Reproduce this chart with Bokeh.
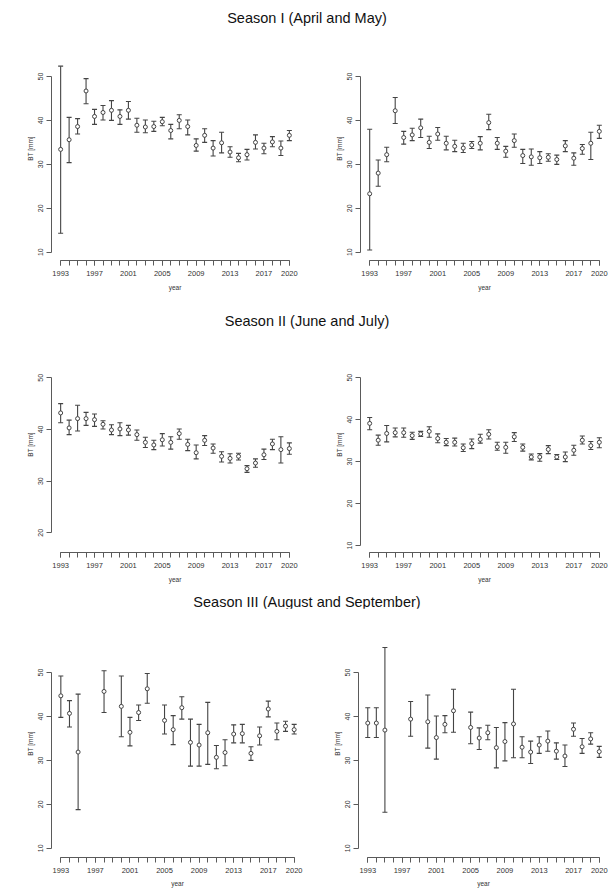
from bokeh.plotting import figure
from bokeh.layouts import column, row
from bokeh.models import Div, ColumnDataSource, Whisker, TeeHead, FixedTicker, Range1d
from bokeh.embed import file_html
from bokeh.resources import INLINE

# ---------------- data ----------------
years = list(range(1993, 2021))
years_s3 = [y for y in years if y not in (1996, 1997, 1999, 2004)]
label_years = [1993, 1997, 2001, 2005, 2009, 2013, 2017, 2020]

titles = ["Season I (April and May)", "Season II (June and July)",
          "Season III (August and September)"]

s1_left_mean = [33.4, 35.6, 38.6, 46.7, 40.9, 41.8, 42.3, 40.9, 42.3, 38.9, 38.5, 38.6, 39.7, 37.7,
                40.0, 38.6, 34.3, 36.6, 33.7, 34.9, 32.8, 31.5, 32.2, 35.0, 33.7, 35.1, 33.7, 36.6]
s1_left_hi = [52.35, 40.7, 40.4, 49.5, 42.5, 43.4, 44.5, 42.4, 44.3, 40.5, 40.1, 39.8, 40.7, 39.1,
              41.3, 40.1, 35.8, 38.1, 35.4, 37.3, 34.0, 32.5, 33.4, 36.7, 34.8, 36.3, 35.3, 37.7]
s1_left_lo = [14.3, 30.4, 36.9, 43.8, 39.1, 40.1, 40.0, 39.1, 40.3, 37.3, 37.2, 37.5, 38.8, 35.8,
              38.1, 36.7, 33.0, 35.0, 31.9, 32.6, 31.6, 30.6, 31.0, 33.5, 32.4, 34.0, 32.0, 35.4]

s1_right_mean = [23.3, 28.0, 32.2, 42.2, 36.1, 36.7, 38.3, 35.0, 36.9, 34.8, 34.1, 33.7, 34.4, 34.8,
                 39.5, 34.8, 33.0, 35.4, 32.0, 31.7, 31.5, 31.6, 31.1, 34.2, 31.4, 33.6, 34.8, 37.5]
s1_right_hi = [38.0, 31.0, 33.9, 45.2, 37.5, 38.2, 40.3, 36.4, 38.4, 36.4, 35.5, 34.8, 35.2, 36.3,
               41.4, 36.1, 34.1, 36.9, 33.4, 33.5, 32.9, 32.4, 32.1, 35.4, 32.6, 34.5, 37.3, 38.9]
s1_right_lo = [10.5, 25.0, 30.6, 39.3, 34.6, 35.4, 36.1, 33.6, 35.5, 33.3, 32.9, 32.7, 33.6, 33.3,
               37.9, 33.4, 31.6, 33.9, 30.2, 29.8, 30.2, 30.7, 30.0, 32.9, 29.8, 32.3, 31.1, 35.9]

s2_left_mean = [43.2, 40.3, 42.1, 42.1, 41.9, 41.0, 39.9, 40.1, 39.9, 39.0, 37.5, 37.0, 38.0, 37.5,
                39.2, 37.1, 35.5, 37.9, 36.4, 34.8, 34.4, 34.8, 32.4, 33.5, 35.1, 37.2, 36.1, 36.3]
s2_left_hi = [45.0, 41.8, 44.7, 43.3, 43.0, 41.7, 40.9, 41.3, 40.8, 39.9, 38.5, 37.9, 39.2, 38.6,
              40.1, 38.1, 37.0, 38.8, 37.2, 35.7, 35.3, 35.4, 33.0, 34.3, 36.2, 38.1, 38.6, 37.4]
s2_left_lo = [41.3, 39.0, 39.7, 40.8, 40.6, 40.1, 39.0, 38.8, 38.9, 37.9, 36.5, 36.1, 36.8, 36.2,
              38.1, 35.9, 34.3, 36.9, 35.4, 33.7, 33.5, 34.1, 31.7, 32.7, 34.2, 36.1, 33.5, 35.2]

s2_right_mean = [39.1, 35.1, 36.7, 36.9, 36.9, 36.2, 36.6, 37.2, 35.5, 34.6, 34.6, 33.3, 34.3, 35.3,
                 36.5, 33.5, 33.4, 35.9, 33.4, 31.1, 31.1, 32.9, 31.1, 31.1, 32.7, 35.1, 33.8, 34.6]
s2_right_hi = [40.5, 36.3, 38.6, 38.0, 38.0, 37.0, 37.2, 38.3, 36.6, 35.5, 35.6, 34.2, 35.4, 36.5,
               37.6, 34.6, 34.6, 36.9, 34.2, 31.8, 31.9, 33.8, 31.7, 32.3, 33.9, 36.1, 34.8, 35.7]
s2_right_lo = [37.6, 33.9, 34.7, 35.9, 35.8, 35.3, 36.0, 35.8, 34.5, 33.8, 33.7, 32.4, 33.1, 34.4,
               35.4, 32.7, 32.0, 34.8, 32.5, 30.4, 30.1, 31.9, 30.5, 30.0, 31.5, 34.2, 32.9, 33.3]

s3_left_mean = [44.7, 40.7, 31.9, 45.7, 42.3, 36.4, 40.9, 46.3, 39.1, 37.0, 42.0, 34.1, 33.5, 36.3,
                30.7, 31.8, 36.0, 36.1, 31.6, 35.6, 41.7, 36.6, 37.8, 37.0]
s3_left_hi = [49.2, 43.6, 45.1, 50.4, 49.2, 39.8, 42.6, 49.8, 42.6, 40.2, 44.5, 39.4, 38.2, 43.2,
              33.4, 34.7, 38.1, 38.2, 33.1, 37.6, 43.5, 38.5, 38.9, 38.2]
s3_left_lo = [39.8, 37.6, 18.8, 40.9, 35.4, 33.3, 39.1, 43.0, 36.0, 33.6, 39.4, 28.7, 28.7, 29.1,
              28.1, 28.8, 34.0, 34.0, 30.0, 33.5, 39.9, 34.7, 36.6, 36.0]

s3_right_mean = [38.5, 38.5, 36.9, 39.4, 38.8, 35.2, 38.2, 41.3, 37.5, 35.1, 36.3, 32.9, 34.3, 38.3,
                 33.0, 31.9, 33.5, 34.4, 32.1, 31.0, 37.1, 33.1, 34.9, 32.0]
s3_right_hi = [42.0, 42.0, 55.7, 43.4, 44.9, 40.1, 40.2, 46.2, 41.0, 37.4, 38.0, 37.5, 38.6, 46.2,
               35.4, 34.4, 35.4, 36.7, 34.0, 33.5, 38.5, 35.0, 36.3, 33.2]
s3_right_lo = [35.2, 35.2, 18.2, 35.5, 32.8, 30.3, 36.3, 36.4, 33.8, 32.5, 34.7, 28.3, 29.9, 30.6,
               30.6, 29.3, 31.6, 32.1, 30.3, 28.6, 35.5, 31.6, 33.7, 30.7]

yticks_full = [10, 20, 30, 40, 50]
yticks_s2_left = [20, 30, 40, 50]

# ---------------- styling ----------------
FONT = "Liberation Sans"
BAR = "#444444"
AXIS = "#5a5a5a"
LABEL = "#333333"
X_RANGE = (1991.92, 2021.08)
PAGE_W = 609


def panel(x, mean, lo, hi, y_range, yticks, fw, fh, bl, br, bt, bb,
          label_standoff=5, axis_standoff=5):
    p = figure(frame_width=fw, frame_height=fh,
               min_border_left=bl, min_border_right=br,
               min_border_top=bt, min_border_bottom=bb,
               x_range=Range1d(*X_RANGE), y_range=Range1d(*y_range),
               output_backend="svg", toolbar_location=None)
    p.outline_line_color = None
    p.grid.visible = False
    p.background_fill_color = "white"
    p.border_fill_color = "white"

    src = ColumnDataSource(dict(x=x, m=mean, lo=lo, hi=hi))
    w = Whisker(base="x", upper="hi", lower="lo", source=src,
                line_color=BAR, line_width=1.1,
                upper_head=TeeHead(size=5, line_color=BAR, line_width=1.1),
                lower_head=TeeHead(size=5, line_color=BAR, line_width=1.1))
    w.level = "underlay"
    p.add_layout(w)
    p.scatter("x", "m", source=src, marker="circle", size=4,
              fill_color="white", line_color=BAR, line_width=1)

    xa = p.xaxis[0]
    xa.ticker = FixedTicker(ticks=label_years, minor_ticks=years)
    xa.bounds = (1993, 2020)
    xa.axis_label = "year"
    xa.major_label_standoff = label_standoff
    xa.axis_label_standoff = axis_standoff
    xa.major_label_text_font_size = "7.5px"

    ya = p.yaxis[0]
    ya.ticker = FixedTicker(ticks=yticks, minor_ticks=[])
    ya.bounds = (min(yticks), max(yticks))
    ya.axis_label = "BT [mm]"
    ya.major_label_orientation = "vertical"
    ya.major_label_standoff = 3
    ya.axis_label_standoff = 2
    ya.major_label_text_font_size = "7px"

    for a in (xa, ya):
        a.axis_line_color = AXIS
        a.axis_line_width = 1
        a.major_tick_line_color = AXIS
        a.minor_tick_line_color = AXIS
        a.major_tick_in = 0
        a.major_tick_out = 5
        a.minor_tick_in = 0
        a.minor_tick_out = 5
        a.major_label_text_font = FONT
        a.major_label_text_color = LABEL
        a.axis_label_text_font = FONT
        a.axis_label_text_font_size = "6.5px"
        a.axis_label_text_font_style = "normal"
        a.axis_label_text_color = LABEL
    return p


def title_div(text, pad, h):
    html = ('<div style="box-sizing:border-box;width:%dpx;display:block;'
            'font-family:\'Liberation Sans\',Arial,sans-serif;'
            'font-size:14.5px;line-height:16px;padding-top:%dpx;padding-left:5px;'
            'text-align:center;color:#111111;white-space:nowrap;margin:0;">%s</div>'
            % (PAGE_W, pad, text))
    return Div(text=html, width=PAGE_W, height=h, margin=0)


# row 1 / row 2 geometry: left fig 300 px, right fig 309 px
p1 = panel(years, s1_left_mean, s1_left_lo, s1_left_hi, (8.11, 59.1), yticks_full,
           247, 224, 51, 2, 6, 46)
p2 = panel(years, s1_right_mean, s1_right_lo, s1_right_hi, (8.11, 59.1), yticks_full,
           248, 224, 60, 1, 6, 46)
p3 = panel(years, s2_left_mean, s2_left_lo, s2_left_hi, (16.19, 57.99), yticks_s2_left,
           247, 216, 51, 2, 8, 34)
p4 = panel(years, s2_right_mean, s2_right_lo, s2_right_hi, (8.34, 59.81), yticks_full,
           248, 216, 60, 1, 8, 34)
# row 3 geometry: left fig 307 px, right fig 302 px
p5 = panel(years_s3, s3_left_mean, s3_left_lo, s3_left_hi, (7.9, 59.8), yticks_full,
           252, 228, 51, 4, 21, 33, label_standoff=5, axis_standoff=4)
p6 = panel(years_s3, s3_right_mean, s3_right_lo, s3_right_hi, (7.9, 59.8), yticks_full,
           250, 228, 51, 1, 21, 33, label_standoff=5, axis_standoff=4)

layout = column(
    title_div(titles[0], 10, 30),
    row(p1, p2, spacing=0),
    title_div(titles[1], 7, 22),
    row(p3, p4, spacing=0),
    title_div(titles[2], 8, 22),
    row(p5, p6, spacing=0),
    spacing=0,
)

open("out.html", "w").write(file_html(layout, INLINE))
